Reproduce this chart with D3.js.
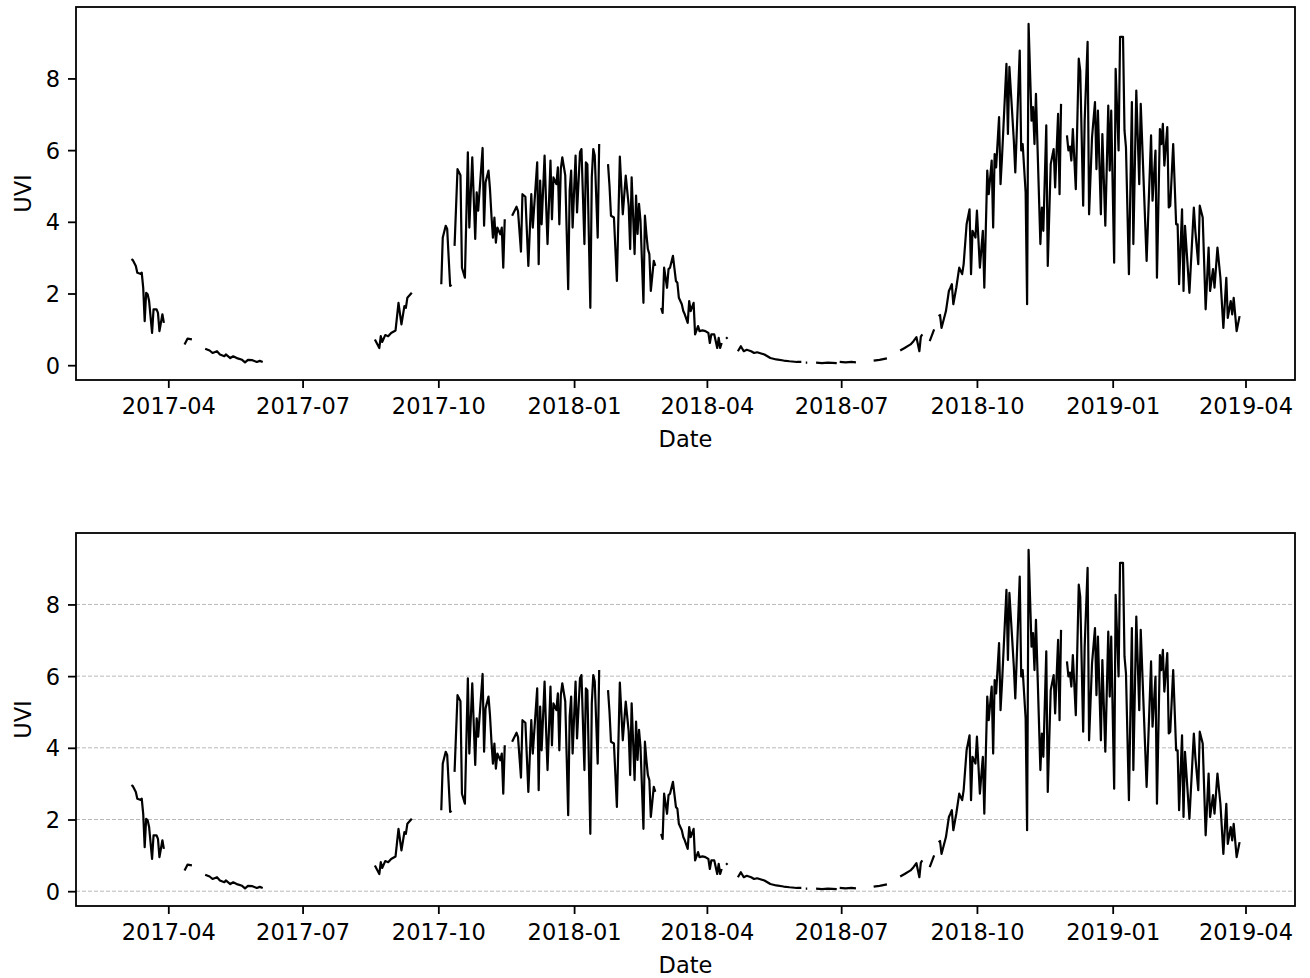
<!DOCTYPE html>
<html><head><meta charset="utf-8">
<script src="https://cdn.jsdelivr.net/npm/d3@7"></script>
<style>
body{margin:0;background:#fff}
svg text{font-family:"DejaVu Sans",sans-serif}
</style>
</head><body>
<svg id="chart" width="1310" height="978"></svg>
<script>
// ---- data (null = gap in the record) ----
const dates = [
"2017-03-07","2017-03-08","2017-03-10","2017-03-11","2017-03-13","2017-03-14","2017-03-15","2017-03-16","2017-03-17","2017-03-18","2017-03-19","2017-03-21","2017-03-22","2017-03-24","2017-03-25","2017-03-26","2017-03-28","2017-03-29","2017-04-01",
"2017-04-12","2017-04-14","2017-04-17","2017-04-20",
"2017-04-26","2017-04-29","2017-05-01","2017-05-04","2017-05-06","2017-05-09","2017-05-10","2017-05-13","2017-05-15","2017-05-18","2017-05-21","2017-05-23","2017-05-25","2017-05-28","2017-05-31","2017-06-02","2017-06-04","2017-06-10",
"2017-08-19","2017-08-22","2017-08-23","2017-08-24","2017-08-26","2017-08-28","2017-08-30","2017-09-02","2017-09-04","2017-09-06","2017-09-08","2017-09-09","2017-09-10","2017-09-13","2017-09-20",
"2017-10-03","2017-10-04","2017-10-06","2017-10-07","2017-10-09","2017-10-10","2017-10-11",
"2017-10-12","2017-10-14","2017-10-16","2017-10-17","2017-10-19","2017-10-21","2017-10-22","2017-10-24","2017-10-26","2017-10-27","2017-10-28","2017-10-31","2017-11-01","2017-11-02","2017-11-04","2017-11-05","2017-11-06","2017-11-07","2017-11-08","2017-11-09","2017-11-10","2017-11-12","2017-11-13","2017-11-14","2017-11-15","2017-11-17",
"2017-11-20","2017-11-23","2017-11-24","2017-11-26","2017-11-27","2017-11-29","2017-12-01","2017-12-03","2017-12-04","2017-12-07","2017-12-08","2017-12-09","2017-12-10","2017-12-12","2017-12-13","2017-12-14","2017-12-16","2017-12-17","2017-12-18","2017-12-20","2017-12-21","2017-12-22","2017-12-23","2017-12-24","2017-12-26","2017-12-28","2017-12-29","2017-12-30","2017-12-31","2018-01-02","2018-01-03","2018-01-05","2018-01-06","2018-01-08","2018-01-09","2018-01-10","2018-01-12","2018-01-13","2018-01-14","2018-01-15","2018-01-17","2018-01-18","2018-01-21",
"2018-01-24","2018-01-25","2018-01-26","2018-01-28","2018-01-30","2018-02-01","2018-02-03","2018-02-05","2018-02-07","2018-02-08","2018-02-09","2018-02-11","2018-02-12","2018-02-13","2018-02-14","2018-02-15","2018-02-17","2018-02-18","2018-02-19","2018-02-20","2018-02-21","2018-02-22","2018-02-24","2018-02-25","2018-02-27",
"2018-03-01","2018-03-02","2018-03-03","2018-03-05","2018-03-06","2018-03-07","2018-03-09","2018-03-11","2018-03-12","2018-03-13","2018-03-15","2018-03-16","2018-03-17","2018-03-19","2018-03-20","2018-03-21","2018-03-23","2018-03-24","2018-03-26","2018-03-27","2018-03-29","2018-03-31","2018-04-02","2018-04-03","2018-04-04","2018-04-06","2018-04-07","2018-04-08","2018-04-09","2018-04-10","2018-04-11","2018-04-13",
"2018-04-14","2018-04-15","2018-04-18",
"2018-04-22","2018-04-24","2018-04-26","2018-04-28","2018-05-01","2018-05-03","2018-05-05","2018-05-10","2018-05-14","2018-05-18","2018-05-23","2018-05-27","2018-06-01","2018-06-04","2018-06-06",
"2018-06-07","2018-06-08","2018-06-11",
"2018-06-14","2018-06-18","2018-06-22","2018-06-28","2018-06-29",
"2018-06-30","2018-07-04","2018-07-08","2018-07-11","2018-07-16",
"2018-07-23","2018-07-27","2018-08-01","2018-08-05",
"2018-08-10","2018-08-13","2018-08-17","2018-08-19","2018-08-21","2018-08-23","2018-08-24","2018-08-25","2018-08-27",
"2018-08-30","2018-09-02","2018-09-04",
"2018-09-05","2018-09-06","2018-09-07","2018-09-10","2018-09-12","2018-09-13","2018-09-14","2018-09-15","2018-09-17","2018-09-19","2018-09-21","2018-09-22","2018-09-24","2018-09-26","2018-09-27","2018-09-28","2018-09-30","2018-10-01","2018-10-03","2018-10-05","2018-10-06","2018-10-08","2018-10-09","2018-10-11","2018-10-12","2018-10-13","2018-10-14","2018-10-16","2018-10-17","2018-10-18","2018-10-21","2018-10-22","2018-10-23","2018-10-26","2018-10-27","2018-10-30","2018-10-31","2018-11-01","2018-11-03","2018-11-04","2018-11-05","2018-11-07","2018-11-08","2018-11-09","2018-11-10","2018-11-13","2018-11-14","2018-11-15","2018-11-17","2018-11-18","2018-11-20","2018-11-22","2018-11-23","2018-11-25","2018-11-26","2018-11-27","2018-11-29",
"2018-12-01","2018-12-02","2018-12-03","2018-12-04","2018-12-05","2018-12-07","2018-12-09","2018-12-10","2018-12-12","2018-12-13","2018-12-15","2018-12-16","2018-12-18","2018-12-20","2018-12-21","2018-12-22","2018-12-24","2018-12-25","2018-12-27","2018-12-29","2018-12-30","2018-12-31","2019-01-02","2019-01-03","2019-01-05","2019-01-06","2019-01-08","2019-01-09","2019-01-10","2019-01-12","2019-01-14","2019-01-15","2019-01-17","2019-01-19","2019-01-20","2019-01-24","2019-01-27","2019-01-28","2019-01-30","2019-01-31","2019-02-02","2019-02-03","2019-02-04","2019-02-05","2019-02-07","2019-02-08","2019-02-09","2019-02-11","2019-02-13","2019-02-14","2019-02-15","2019-02-17","2019-02-18","2019-02-19","2019-02-22","2019-02-25","2019-02-26","2019-02-28","2019-03-01","2019-03-03","2019-03-05","2019-03-07","2019-03-08","2019-03-10","2019-03-11","2019-03-13","2019-03-15","2019-03-17","2019-03-19","2019-03-20","2019-03-22","2019-03-23","2019-03-24","2019-03-26","2019-03-28"
];
const uvi = [
2.96,2.93,2.77,2.58,2.55,2.58,2.16,1.23,2.02,1.98,1.79,0.90,1.56,1.56,1.46,0.95,1.42,1.18,null,
0.58,0.74,0.72,null,
0.46,0.41,0.34,0.39,0.30,0.25,0.30,0.20,0.25,0.19,0.15,0.08,0.15,0.14,0.09,0.12,0.09,null,
0.72,0.48,0.81,0.65,0.84,0.81,0.90,0.97,1.74,1.14,1.65,1.60,1.88,2.02,null,
2.26,3.56,3.89,3.80,2.21,2.24,null,
3.33,5.47,5.30,2.72,2.44,5.94,3.84,5.80,3.52,4.82,4.31,6.06,3.89,5.10,5.43,4.91,4.17,3.56,4.12,3.42,3.84,3.65,3.84,2.72,4.07,null,
4.17,4.42,4.30,3.17,4.77,4.70,2.77,4.77,3.84,5.66,2.82,5.15,3.93,5.85,4.54,3.38,5.71,4.07,5.24,5.05,5.52,3.93,5.47,5.80,5.30,2.12,4.87,5.43,3.84,5.85,4.26,5.94,6.03,3.38,5.66,5.60,1.60,5.24,6.03,5.85,3.56,6.17,null,
5.61,5.00,4.17,4.12,2.35,5.82,4.21,5.29,4.45,3.24,5.24,3.10,4.73,3.66,4.50,4.03,1.74,4.17,3.66,3.24,3.10,2.07,2.91,2.77,null,
1.60,1.46,2.72,2.16,2.68,2.72,3.05,2.35,2.30,1.88,1.70,1.51,1.42,1.18,1.79,1.51,1.74,0.86,1.09,0.95,0.97,0.95,0.90,0.62,0.86,0.86,0.67,0.48,0.76,0.48,0.62,null,
0.74,0.78,null,
0.39,0.53,0.39,0.43,0.39,0.34,0.36,0.30,0.20,0.16,0.13,0.11,0.09,0.09,null,
0.07,0.07,null,
0.07,0.06,0.07,0.06,null,
0.09,0.08,0.09,0.08,null,
0.13,0.15,0.19,null,
0.41,0.48,0.58,0.67,0.78,0.39,0.80,0.86,null,
0.67,1.00,null,
1.37,1.40,1.04,1.51,2.07,2.16,2.26,1.70,2.16,2.72,2.54,2.82,3.93,4.35,2.54,3.75,3.56,4.31,2.72,3.75,2.16,5.43,4.77,5.71,3.84,5.89,5.52,6.92,5.05,5.80,8.41,6.45,8.32,6.27,5.38,8.78,5.99,6.17,4.82,1.70,9.52,6.82,7.20,6.17,7.57,3.38,4.40,3.75,6.69,2.77,5.61,6.03,4.96,7.01,4.77,7.29,null,
6.41,5.99,6.10,5.71,6.59,4.91,8.55,8.22,4.45,6.82,9.02,4.21,6.36,7.34,5.47,7.10,4.21,6.45,3.89,7.24,5.43,7.10,2.86,8.27,5.99,9.16,9.16,6.55,6.08,2.54,7.34,3.38,7.66,5.05,7.29,2.91,6.41,4.59,5.99,2.44,6.59,6.17,6.73,5.57,6.64,4.40,4.45,6.17,3.93,3.93,2.26,4.35,2.07,3.89,2.02,4.40,3.75,2.82,4.45,4.12,1.56,3.28,2.07,2.68,2.16,3.28,2.44,1.04,2.44,1.32,1.79,1.42,1.88,0.95,1.37
];
const xTickLabels = ["2017-04","2017-07","2017-10","2018-01","2018-04","2018-07","2018-10","2019-01","2019-04"];
const yTickValues = [0,2,4,6,8];
const xAxisTitle = "Date";
const yAxisTitle = "UVI";

// ---- layout ----
const svg = d3.select("#chart");
const left = 76, plotW = 1219, plotH = 373;
const panels = [{top: 7, grid: false}, {top: 533, grid: true}];
const FONT = 22.5;

if (dates.length !== uvi.length) console.error("length mismatch", dates.length, uvi.length);

const parse = d3.timeParse("%Y-%m-%d");
const data = dates.map((d, i) => ({date: parse(d), v: uvi[i]}));
const valid = data.filter(d => d.v != null);

const xExt = d3.extent(valid, d => d.date);
const xSpan = xExt[1] - xExt[0];
const yExt = d3.extent(valid, d => d.v);
const ySpan = yExt[1] - yExt[0];

const x = d3.scaleTime()
  .domain([new Date(+xExt[0] - 0.05 * xSpan), new Date(+xExt[1] + 0.05 * xSpan)])
  .range([0, plotW]);
const y = d3.scaleLinear()
  .domain([yExt[0] - 0.05 * ySpan, yExt[1] + 0.05 * ySpan])
  .range([plotH, 0]);

const xTicks = xTickLabels.map(d3.timeParse("%Y-%m"));

const line = d3.line()
  .defined(d => d.v != null)
  .x(d => x(d.date))
  .y(d => y(d.v));

panels.forEach(p => {
  const g = svg.append("g").attr("transform", `translate(${left},${p.top})`);

  if (p.grid) {
    g.append("g").selectAll("line").data(yTickValues).join("line")
      .attr("x1", 0).attr("x2", plotW)
      .attr("y1", d => y(d)).attr("y2", d => y(d))
      .attr("stroke", "#b8b8b8").attr("stroke-width", 1)
      .attr("stroke-dasharray", "4,2");
  }

  g.append("path").datum(data)
    .attr("fill", "none").attr("stroke", "#000")
    .attr("stroke-width", 2.2).attr("stroke-linejoin", "round")
    .attr("d", line);

  const xa = g.append("g").attr("transform", `translate(0,${plotH})`)
    .call(d3.axisBottom(x).tickValues(xTicks).tickFormat(d3.timeFormat("%Y-%m"))
      .tickSize(8).tickPadding(10));
  const ya = g.append("g")
    .call(d3.axisLeft(y).tickValues(yTickValues).tickFormat(d3.format("d"))
      .tickSize(8).tickPadding(8));
  [xa, ya].forEach(a => {
    a.attr("font-family", "DejaVu Sans, sans-serif").attr("font-size", FONT).attr("color", "#000");
    a.select(".domain").remove();
    a.selectAll(".tick line").attr("stroke-width", 1.8);
  });
  ya.selectAll(".tick text").attr("dy", "0.36em");

  g.append("rect").attr("x", 0).attr("y", 0).attr("width", plotW).attr("height", plotH)
    .attr("fill", "none").attr("stroke", "#000").attr("stroke-width", 1.8);

  g.append("text").attr("x", plotW / 2).attr("y", plotH + 67)
    .attr("text-anchor", "middle").attr("font-size", FONT).attr("fill", "#000")
    .text(xAxisTitle);
  g.append("text")
    .attr("transform", `translate(${31 - left},${plotH / 2}) rotate(-90)`)
    .attr("text-anchor", "middle").attr("font-size", FONT).attr("fill", "#000")
    .text(yAxisTitle);
});
</script>
</body></html>
